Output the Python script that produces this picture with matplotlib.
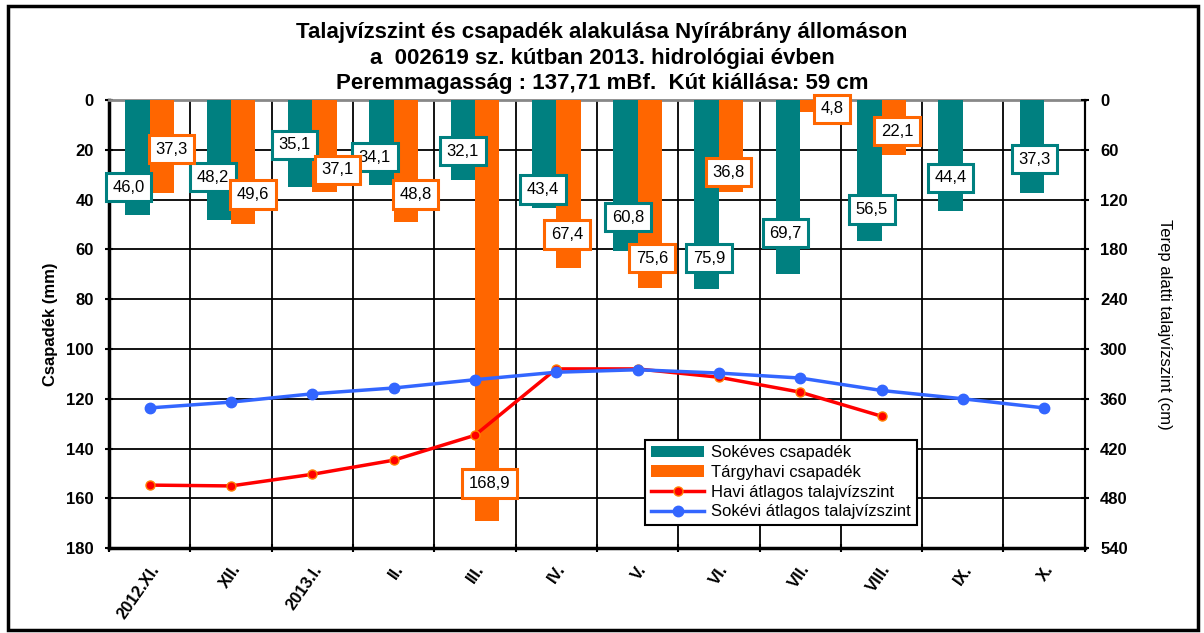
import numpy as np
import matplotlib
matplotlib.use("Agg")
import matplotlib.pyplot as plt
from matplotlib.patches import Rectangle

plt.rcParams['font.family'] = ['Liberation Sans', 'DejaVu Sans']

# data
months = ["2012.XI.", "XII.", "2013.I.", "II.", "III.", "IV.", "V.", "VI.",
          "VII.", "VIII.", "IX.", "X."]
sokeves = [46.0, 48.2, 35.1, 34.1, 32.1, 43.4, 60.8, 75.9, 69.7, 56.5, 44.4, 37.3]
targyhavi = [37.3, 49.6, 37.1, 48.8, 168.9, 67.4, 75.6, 36.8, 4.8, 22.1]
havi_szint = [464, 465, 451, 434, 404, 324, 324, 334, 352, 381]
sokevi_szint = [371, 364, 354, 347, 337, 328, 325, 329, 335, 350, 360, 371]

# label centre positions (x offset in categories, y in mm), placed like the original
teal_lab_pos = [(-0.26, 35), (-0.22, 31), (-0.22, 18), (-0.23, 23), (-0.15, 20.5),
                (-0.16, 36), (-0.12, 47), (-0.12, 63.5), (-0.18, 53.5), (-0.12, 44),
                (-0.15, 31.3), (-0.12, 23.7)]
orange_lab_pos = [(0.27, 19.8), (0.27, 38), (0.31, 28), (0.27, 38),
                  (0.18, 154), (0.13, 54), (0.18, 63.5), (0.12, 29),
                  (0.39, 3.5), (0.19, 12.5)]

TEAL = "#008080"
ORANGE = "#FF6600"
RED = "#FF0000"
BLUE = "#3366FF"

fig = plt.figure(figsize=(12.04, 6.33), dpi=100)
ax = fig.add_axes([0.0905, 0.134, 0.8105, 0.708])
ax2 = ax.twinx()

x = np.arange(len(months))
w = 0.3
ax.bar(x - w / 2, sokeves, w, color=TEAL, label="Sokéves csapadék", zorder=3)
ax.bar(x[:len(targyhavi)] + w / 2, targyhavi, w, color=ORANGE,
       label="Tárgyhavi csapadék", zorder=3)

# data labels on the twin axes so they sit above the lines (1 mm = 3 cm there)
for i, v in enumerate(sokeves):
    dx, dy = teal_lab_pos[i]
    ax2.text(i + dx, dy * 3, f"{v:.1f}".replace(".", ","), ha="center",
             va="center", fontsize=12, zorder=6,
             bbox=dict(boxstyle="square,pad=0.4", fc="white", ec=TEAL, lw=2.2))
for i, v in enumerate(targyhavi):
    dx, dy = orange_lab_pos[i]
    ax2.text(i + dx, dy * 3, f"{v:.1f}".replace(".", ","), ha="center",
             va="center", fontsize=12, zorder=6,
             bbox=dict(boxstyle="square,pad=0.4", fc="white", ec=ORANGE, lw=2.2))

ax.set_xlim(-0.5, len(months) - 0.5)
ax.set_ylim(180, 0)
ax.set_yticks(np.arange(0, 181, 20))
ax.set_xticks(x)
ax.set_xticklabels(months, rotation=55, ha="right", rotation_mode="anchor",
                   fontweight="bold", fontsize=12)
ax.set_xticks(np.arange(-0.5, len(months), 1), minor=True)
ax.tick_params(axis="x", which="major", length=0, pad=10)
ax.tick_params(axis="x", which="minor", length=6, width=1.5, direction="inout")
ax.tick_params(axis="y", length=6, width=1.5, direction="inout", pad=8)
for lab in ax.get_yticklabels():
    lab.set_fontweight("bold")
    lab.set_fontsize(12)
ax.set_ylabel("Csapadék (mm)", fontsize=12, fontweight="bold", labelpad=6)

ax.grid(True, axis="y", color="black", lw=1.3, zorder=1)
ax.grid(True, axis="x", which="minor", color="black", lw=1.3, zorder=1)
ax.set_axisbelow(True)
ax.spines["left"].set_linewidth(2.5)
ax.spines["bottom"].set_linewidth(2.5)
ax.spines["top"].set_color("#888888")
ax.spines["top"].set_linewidth(2)
ax.spines["right"].set_linewidth(1.5)

ax2.plot(x[:len(havi_szint)], havi_szint, color=RED, lw=2.5, marker="o",
         markersize=6.5, markerfacecolor=RED, markeredgecolor="#FF8000",
         label="Havi átlagos talajvízszint", zorder=4)
ax2.plot(x, sokevi_szint, color=BLUE, lw=2.5, marker="o", markersize=7.5,
         markerfacecolor=BLUE, markeredgecolor=BLUE,
         label="Sokévi átlagos talajvízszint", zorder=4)
ax2.set_ylim(540, 0)
ax2.set_yticks(np.arange(0, 541, 60))
ax2.tick_params(axis="y", length=6, width=1.5, direction="inout", pad=8)
for lab in ax2.get_yticklabels():
    lab.set_fontweight("bold")
    lab.set_fontsize(12)
ax2.set_ylabel("Terep alatti talajvízszint (cm)", fontsize=12, rotation=270,
               labelpad=32)
ax2.set_xlim(-0.5, len(months) - 0.5)
for s in ax2.spines.values():
    s.set_visible(False)
ax2.spines["right"].set_visible(True)
ax2.spines["right"].set_linewidth(1.5)

h1, l1 = ax.get_legend_handles_labels()
h2, l2 = ax2.get_legend_handles_labels()
leg = ax2.legend(h1 + h2, l1 + l2, loc="upper left",
                 bbox_to_anchor=(0.541, 0.261), fontsize=12, frameon=True,
                 fancybox=False, edgecolor="black", framealpha=1,
                 handlelength=3.2, borderpad=0.35, labelspacing=0.28,
                 handletextpad=0.4)
leg.get_frame().set_linewidth(1.5)
leg.set_zorder(10)

title_lines = ["Talajvízszint és csapadék alakulása Nyírábrány állomáson",
               "a  002619 sz. kútban 2013. hidrológiai évben",
               "Peremmagasság : 137,71 mBf.  Kút kiállása: 59 cm"]
for k, t in enumerate(title_lines):
    fig.text(0.5, 0.948 - 0.04 * k, t, ha="center", va="center",
             fontsize=16, fontweight="bold")

fig.patches.append(Rectangle((0.007, 0.005), 0.988, 0.985, fill=False,
                             ec="black", lw=2.5, transform=fig.transFigure))

plt.savefig("out.png", dpi=100)
